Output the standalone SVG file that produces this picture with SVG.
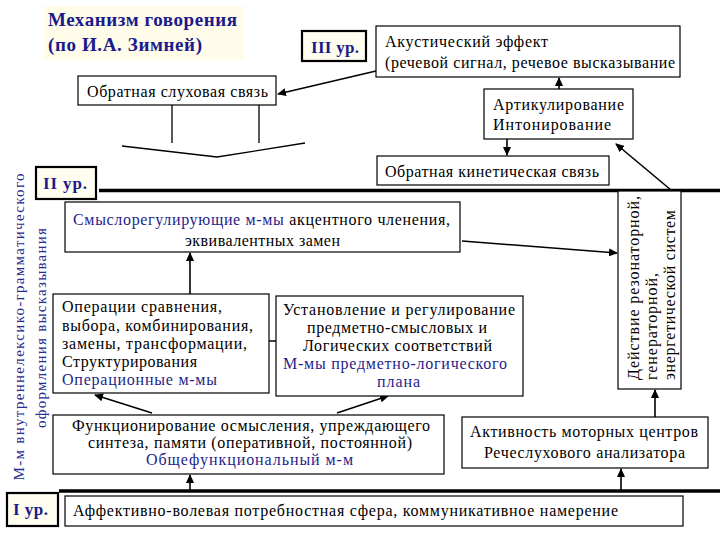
<svg xmlns="http://www.w3.org/2000/svg" width="720" height="540" viewBox="0 0 720 540" font-family="'Liberation Serif', 'Times New Roman', Times, 'DejaVu Serif', 'Noto Serif', serif">
<defs>
<style>
.box{fill:#fff;stroke:#000;stroke-width:1.2}
.lvl{fill:#fffdf0;stroke:#000;stroke-width:2.2}
.t{font-size:16px;fill:#000}
.b{fill:#1e1e8a}
.h{font-weight:bold;fill:#1a1a8c}
.ln{stroke:#000;stroke-width:1.3;fill:none}
.ar{stroke:#000;stroke-width:1.6;fill:none;marker-end:url(#ah)}
.thick{stroke:#000;stroke-width:3.6;fill:none}
.v{font-size:15px;fill:#2a2a8f}
</style>
<marker id="ah" markerUnits="userSpaceOnUse" markerWidth="9" markerHeight="8" refX="8" refY="4" orient="auto">
<path d="M0,0 L9,4 L0,8 z" fill="#000"/>
</marker>
</defs>
<rect width="720" height="540" fill="#fff"/>

<g id="title">
<rect x="44" y="6" width="200" height="54" fill="#fffcea"/>
<text class="h" x="48" y="26" font-size="19" textLength="189">Механизм говорения</text>
<text class="h" x="48" y="51" font-size="19" textLength="154">(по И.А. Зимней)</text>
</g>

<g id="connectors">
<line class="thick" x1="99" y1="190.5" x2="720" y2="190.5"/>
<line class="thick" x1="59" y1="491" x2="720" y2="491"/>
<line class="ar" x1="376" y1="71" x2="278" y2="94"/>
<line class="ln" x1="172" y1="105" x2="172" y2="143"/>
<line class="ln" x1="259" y1="105" x2="259" y2="143"/>
<polyline class="ln" points="122,146 217,157 305,143"/>
<line class="ar" x1="559" y1="89" x2="559" y2="78"/>
<line class="ar" x1="507" y1="139" x2="507" y2="155"/>
<line class="ar" x1="671" y1="190" x2="616" y2="144"/>
<line class="ar" x1="462" y1="241" x2="617" y2="253"/>
<line class="ar" x1="190" y1="294" x2="190" y2="253"/>
<line class="ar" x1="252" y1="341" x2="291" y2="341"/>
<line class="ar" x1="152" y1="413" x2="95" y2="395"/>
<line class="ar" x1="337" y1="413" x2="388" y2="396"/>
<line class="ar" x1="190" y1="490" x2="190" y2="475"/>
<line class="ar" x1="621" y1="490" x2="621" y2="469"/>
<line class="ar" x1="655" y1="417" x2="655" y2="390"/>
</g>

<g id="lvl3">
<rect class="lvl" x="302" y="31" width="64" height="30"/>
<text class="h" x="311" y="53" font-size="17" textLength="48">III ур.</text>
</g>

<g id="acoustic">
<rect class="box" x="376" y="26" width="304" height="51"/>
<text class="t" x="385" y="47" textLength="163">Акустический эффект</text>
<text class="t" x="385" y="68" textLength="290">(речевой сигнал, речевое высказывание</text>
</g>

<g id="auditory">
<rect class="box" x="78" y="76" width="198" height="29"/>
<text class="t" x="87" y="97" textLength="181">Обратная слуховая связь</text>
</g>

<g id="articulation">
<rect class="box" x="484" y="89" width="149" height="50"/>
<text class="t" x="493" y="110" textLength="131">Артикулирование</text>
<text class="t" x="493" y="130" textLength="118">Интонирование</text>
</g>

<g id="kinetic">
<rect class="box" x="377" y="156" width="232" height="29"/>
<text class="t" x="385" y="177" textLength="214">Обратная кинетическая связь</text>
</g>

<g id="lvl2">
<rect class="lvl" x="36" y="167" width="60" height="32"/>
<text class="h" x="43" y="189" font-size="17" textLength="44">II ур.</text>
</g>

<g id="sense">
<rect class="box" x="65" y="202" width="395" height="50"/>
<text class="t" x="73" y="225" textLength="377"><tspan class="b">Смыслорегулирующие м-мы</tspan> акцентного членения,</text>
<text class="t" x="185" y="246" textLength="155">эквивалентных замен</text>
</g>

<g id="resonator">
<rect class="box" x="618" y="191" width="63" height="198"/>
<text class="t" transform="translate(639,380) rotate(-90)" x="0" y="0" textLength="184">Действие резонаторной,</text>
<text class="t" transform="translate(657,380) rotate(-90)" x="0" y="0" textLength="107">генераторной,</text>
<text class="t" transform="translate(675,380) rotate(-90)" x="0" y="0" textLength="170">энергетической систем</text>
</g>

<g id="operations">
<rect class="box" x="53" y="294" width="216" height="99"/>
<text class="t" x="62" y="312" textLength="160">Операции сравнения,</text>
<text class="t" x="62" y="331" textLength="191">выбора, комбинирования,</text>
<text class="t" x="62" y="349" textLength="185">замены, трансформации,</text>
<text class="t" x="62" y="367" textLength="135">Структурирования</text>
<text class="t b" x="62" y="385" textLength="155">Операционные м-мы</text>
</g>

<g id="logic">
<rect class="box" x="276" y="296" width="247" height="100"/>
<text class="t" x="283" y="315" textLength="232">Установление и регулирование</text>
<text class="t" x="307" y="333" textLength="180">предметно-смысловых и</text>
<text class="t" x="303" y="351" textLength="189">Логических соответствий</text>
<text class="t b" x="283" y="369" textLength="224">М-мы предметно-логического</text>
<text class="t b" x="377" y="387" textLength="43">плана</text>
</g>

<g id="function">
<rect class="box" x="53" y="415" width="391" height="59"/>
<text class="t" x="72" y="431" textLength="358">Функционирование осмысления, упреждающего</text>
<text class="t" x="88" y="448" textLength="324">синтеза, памяти (оперативной, постоянной)</text>
<text class="t b" x="146" y="465" textLength="207">Общефункциональный м-м</text>
</g>

<g id="motor">
<rect class="box" x="462" y="417" width="246" height="51"/>
<text class="t" x="470" y="437" textLength="228">Активность моторных центров</text>
<text class="t" x="484" y="458" textLength="201">Речеслухового анализатора</text>
</g>

<g id="lvl1">
<rect class="lvl" x="7" y="493" width="51" height="33"/>
<text class="h" x="13" y="515" font-size="17" textLength="35">I ур.</text>
</g>

<g id="affective">
<rect class="box" x="65" y="496" width="618" height="30"/>
<text class="t" x="73" y="516" textLength="545">Аффективно-волевая потребностная сфера, коммуникативное намерение</text>
</g>

<g id="side-label">
<text class="v" transform="translate(24,327) rotate(-90)" text-anchor="middle" textLength="307">М-м внутреннелексико-грамматического</text>
<text class="v" transform="translate(46,328) rotate(-90)" text-anchor="middle" textLength="200">оформления высказывания</text>
</g>
</svg>
